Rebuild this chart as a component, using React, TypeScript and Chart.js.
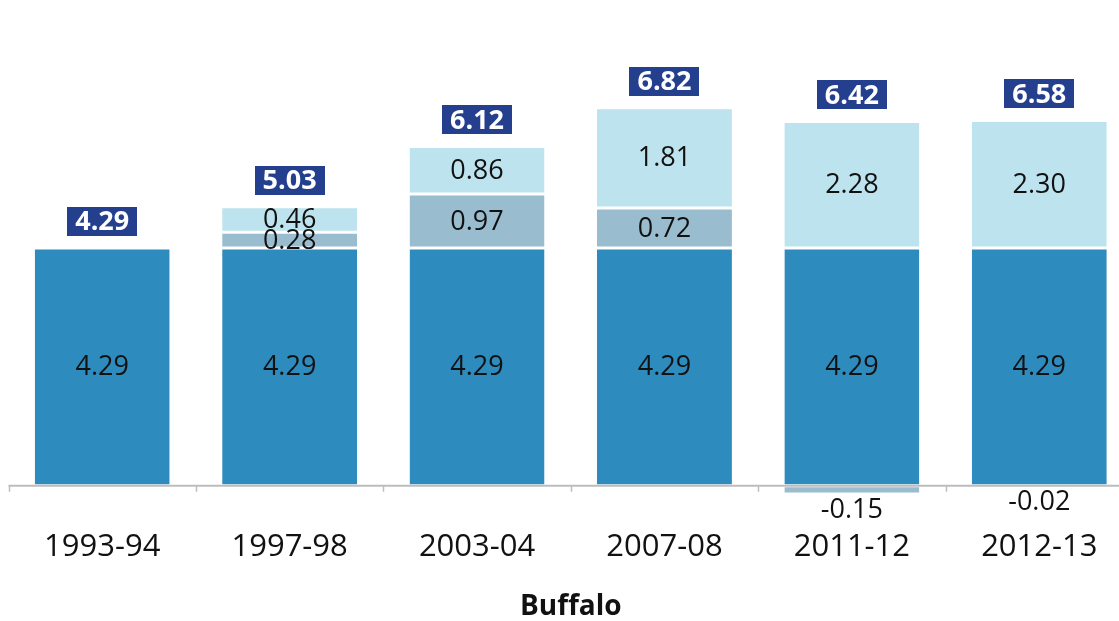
import React, { useEffect, useRef } from "react";
import { Chart, registerables } from "chart.js";

Chart.register(...registerables);

const categories = ["1993-94", "1997-98", "2003-04", "2007-08", "2011-12", "2012-13"];
const baseValues = [4.29, 4.29, 4.29, 4.29, 4.29, 4.29];
const middleValues = [null, 0.28, 0.97, 0.72, -0.15, -0.02];
const topValues = [null, 0.46, 0.86, 1.81, 2.28, 2.3];
const totalLabels = ["4.29", "5.03", "6.12", "6.82", "6.42", "6.58"];
const chartTitle = "Buffalo";

const FONT = "'Open Sans', 'Noto Sans', sans-serif";

const labelPlugin = {
  id: "customLabels",
  afterDatasetsDraw(chart: any) {
    const ctx = chart.ctx;
    const area = chart.chartArea;
    const xs = chart.scales.x;
    const ys = chart.scales.y;
    const y0 = ys.getPixelForValue(0);
    ctx.save();
    // axis line
    ctx.strokeStyle = "#bdbdbd";
    ctx.lineWidth = 2;
    ctx.beginPath();
    ctx.moveTo(area.left, y0);
    ctx.lineTo(area.right, y0);
    ctx.stroke();
    const n = categories.length;
    const cw = (area.right - area.left) / n;
    ctx.lineWidth = 1.5;
    for (let i = 0; i <= n; i++) {
      const x = Math.round(area.left + i * cw) + 0.5;
      ctx.beginPath();
      ctx.moveTo(x, y0);
      ctx.lineTo(x, y0 + 6);
      ctx.stroke();
    }
    // segment labels
    ctx.font = `27px ${FONT}`;
    ctx.fillStyle = "#111";
    ctx.textAlign = "center";
    chart.data.datasets.forEach((ds: any, di: number) => {
      const meta = chart.getDatasetMeta(di);
      meta.data.forEach((el: any, i: number) => {
        const v = ds.data[i];
        if (v === null || v === undefined) return;
        const s = v.toFixed(2);
        ctx.textBaseline = "middle";
        if (v >= 0) {
          ctx.fillText(s, el.x, (el.y + el.base) / 2 + 1);
        } else {
          ctx.fillText(s, el.x, Math.max(el.y, el.base) + 16);
        }
      });
    });
    // totals
    ctx.font = `bold 27px ${FONT}`;
    for (let i = 0; i < n; i++) {
      let topY = y0;
      chart.data.datasets.forEach((ds: any, di: number) => {
        const v = ds.data[i];
        if (v === null || v === undefined || v < 0) return;
        const el = chart.getDatasetMeta(di).data[i];
        topY = Math.min(topY, el.y);
      });
      const x = xs.getPixelForValue(i);
      const text = totalLabels[i];
      const w = ctx.measureText(text).width + 16;
      const h = 29;
      const bottom = topY - 12;
      ctx.fillStyle = "#253f8f";
      ctx.fillRect(Math.round(x - w / 2), Math.round(bottom - h), Math.round(w), h);
      ctx.fillStyle = "#ffffff";
      ctx.textBaseline = "middle";
      ctx.fillText(text, x, bottom - h / 2 + 1);
    }
    ctx.restore();
  },
};

export default function App() {
  const ref = useRef<HTMLCanvasElement>(null);
  useEffect(() => {
    if (!ref.current) return;
    const border = { top: 1.5, bottom: 1.5, left: 0, right: 0 };
    const chart = new Chart(ref.current, {
      type: "bar",
      data: {
        labels: categories,
        datasets: [
          { label: "base", data: baseValues, backgroundColor: "#2e8bbd", borderColor: "#ffffff", borderWidth: border, borderSkipped: false },
          { label: "middle", data: middleValues as any, backgroundColor: "#99bccf", borderColor: "#ffffff", borderWidth: border, borderSkipped: false },
          { label: "top", data: topValues as any, backgroundColor: "#bde3ee", borderColor: "#ffffff", borderWidth: border, borderSkipped: false },
        ],
      },
      options: {
        animation: false,
        responsive: false,
        devicePixelRatio: 1,
        layout: { padding: { left: 8.5, right: 7, top: 40, bottom: 0 } },
        datasets: { bar: { categoryPercentage: 1, barPercentage: 0.72 } },
        scales: {
          x: {
            stacked: true,
            grid: { display: false },
            border: { display: false },
            ticks: { font: { family: FONT, size: 31 }, color: "#111", padding: 8, maxRotation: 0 },
          },
          y: {
            stacked: true,
            display: false,
            min: -0.478,
            max: 8.04,
          },
        },
        plugins: {
          legend: { display: false },
          tooltip: { enabled: false },
          title: {
            display: true,
            text: chartTitle,
            position: "bottom",
            color: "#111",
            font: { family: FONT, size: 28, weight: "bold" },
            padding: { top: 17, bottom: -3 },
          },
        },
      },
      plugins: [labelPlugin],
    });
    return () => chart.destroy();
  }, []);
  return (
    <div style={{ position: "absolute", left: 0, top: 0, width: 1119, height: 621, overflow: "hidden", background: "#fff" }}>
      <canvas ref={ref} width={1140} height={621} style={{ display: "block" }} />
    </div>
  );
}
